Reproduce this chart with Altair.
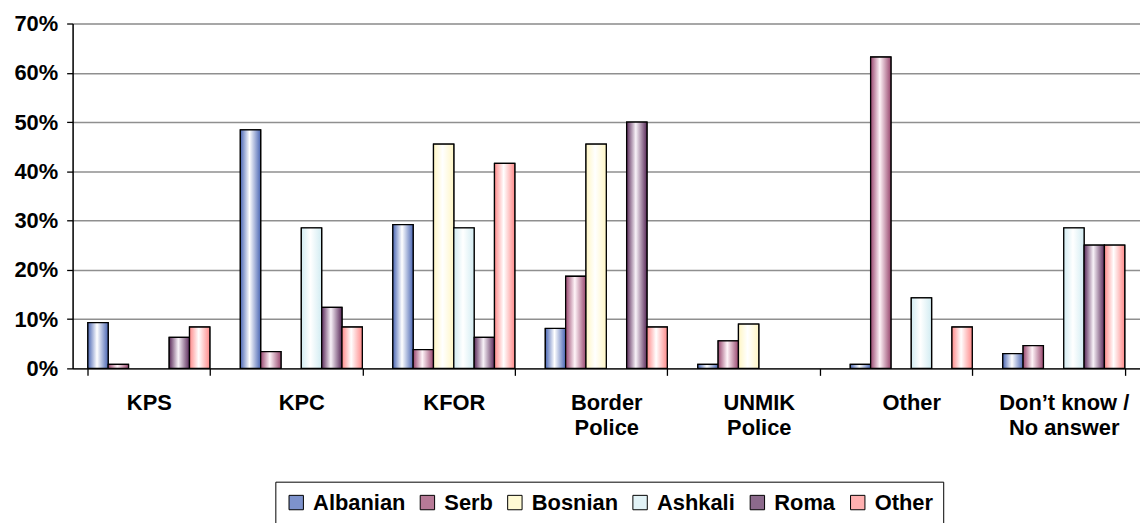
import altair as alt
import pandas as pd

categories = ["KPS", "KPC", "KFOR", "Border Police", "UNMIK Police", "Other", "Don’t know / No answer"]
series = ["Albanian", "Serb", "Bosnian", "Ashkali", "Roma", "Other"]

albanian = [9.3, 48.4, 29.2, 8.1, 0.8, 0.8, 3.0]
serb = [0.8, 3.4, 3.8, 18.7, 5.6, 63.2, 4.6]
bosnian = [0.0, 0.0, 45.5, 45.5, 9.0, 0.0, 0.0]
ashkali = [0.0, 28.5, 28.5, 0.0, 0.0, 14.3, 28.5]
roma = [6.3, 12.4, 6.3, 50.0, 0.0, 0.0, 25.0]
other = [8.4, 8.4, 41.6, 8.4, 0.0, 8.4, 25.0]

values_by_series = [albanian, serb, bosnian, ashkali, roma, other]

# gradient edge / centre colours and solid legend colours
edge_colors = ["#4a66b4", "#98466e", "#fff6c4", "#d2ecf2", "#5a2a5a", "#ff8a8a"]
mid_colors = ["#ffffff", "#fff4f8", "#ffffff", "#ffffff", "#f8f2f8", "#ffffff"]
legend_colors = ["#7d92cc", "#b77a97", "#fffad4", "#e2f3f7", "#8c6a8c", "#ffb0b0"]

rows = []
for s, vals in zip(series, values_by_series):
    for c, v in zip(categories, vals):
        rows.append({"category": c, "series": s, "value": v / 100.0})
df = pd.DataFrame(rows)

FONT = "Liberation Sans"

label_expr = (
    "datum.label == 'Border Police' ? ['Border', 'Police'] : "
    "datum.label == 'UNMIK Police' ? ['UNMIK', 'Police'] : "
    "datum.label == 'Don’t know / No answer' ? ['Don’t know /', 'No answer'] : datum.label"
)

x_enc = alt.X(
    "category:N",
    sort=categories,
    scale=alt.Scale(domain=categories, paddingInner=0.2, paddingOuter=0.1),
    axis=alt.Axis(
        title=None,
        labelAngle=0,
        labelExpr=label_expr,
        tickBand="extent",
        tickSize=7,
        tickColor="black",
        tickWidth=1.3,
        domainColor="black",
        domainWidth=1.5,
        labelFont=FONT,
        labelFontSize=22,
        labelFontWeight="bold",
        labelColor="black",
        labelPadding=17,
        labelLineHeight=26,
        grid=False,
    ),
)
xoff_enc = alt.XOffset("series:N", sort=series, scale=alt.Scale(domain=series, paddingInner=0, paddingOuter=0))
y_enc = alt.Y(
    "value:Q",
    scale=alt.Scale(domain=[0, 0.7], nice=False),
    axis=alt.Axis(
        title=None,
        format=".0%",
        values=[0, 0.1, 0.2, 0.3, 0.4, 0.5, 0.6, 0.7],
        tickSize=6,
        tickColor="black",
        tickWidth=1.3,
        domainColor="black",
        domainWidth=1.5,
        grid=True,
        gridColor="#8f8f8f",
        gridWidth=1.5,
        labelFont=FONT,
        labelFontSize=22,
        labelFontWeight="bold",
        labelColor="black",
        labelPadding=9,
    ),
)

base = alt.Chart(df).transform_filter(alt.datum.value > 0)

legend_layer = base.mark_bar(stroke="black", strokeWidth=1.2).encode(
    x=x_enc,
    xOffset=xoff_enc,
    y=y_enc,
    color=alt.Color(
        "series:N",
        sort=series,
        scale=alt.Scale(domain=series, range=legend_colors),
        legend=alt.Legend(
            title=None,
            orient="none",
            legendX=204,
            legendY=461,
            direction="horizontal",
            symbolType="square",
            symbolSize=210,
            symbolStrokeColor="black",
            symbolStrokeWidth=1,
            labelFont=FONT,
            labelFontSize=22,
            labelFontWeight="bold",
            labelColor="black",
            labelOffset=6,
            columnPadding=11,
            padding=10,
            strokeColor="black",
            fillColor="white",
            labelLimit=300,
        ),
    ),
)

layers = [legend_layer]
for s, e, m in zip(series, edge_colors, mid_colors):
    grad = alt.LinearGradient(
        gradient="linear",
        x1=0, x2=1, y1=0, y2=0,
        stops=[
            alt.GradientStop(offset=0, color=e),
            alt.GradientStop(offset=0.45, color=m),
            alt.GradientStop(offset=1, color=e),
        ],
    )
    layers.append(
        base.transform_filter(alt.datum.series == s)
        .mark_bar(fill=grad, stroke="black", strokeWidth=1.3)
        .encode(x=x_enc, xOffset=xoff_enc, y=y_enc)
    )

chart = (
    alt.layer(*layers)
    .properties(
        width=1074,
        height=347,
        autosize=alt.AutoSizeParams(type="none"),
        padding={"left": 65, "top": 14, "right": 0, "bottom": 160},
    )
    .configure_view(fill="#dcdde0", stroke="#8f8f8f", strokeWidth=1.5)
    .configure(background="white")
)

chart.save("out.html", embed_options={"renderer": "svg", "actions": False})
